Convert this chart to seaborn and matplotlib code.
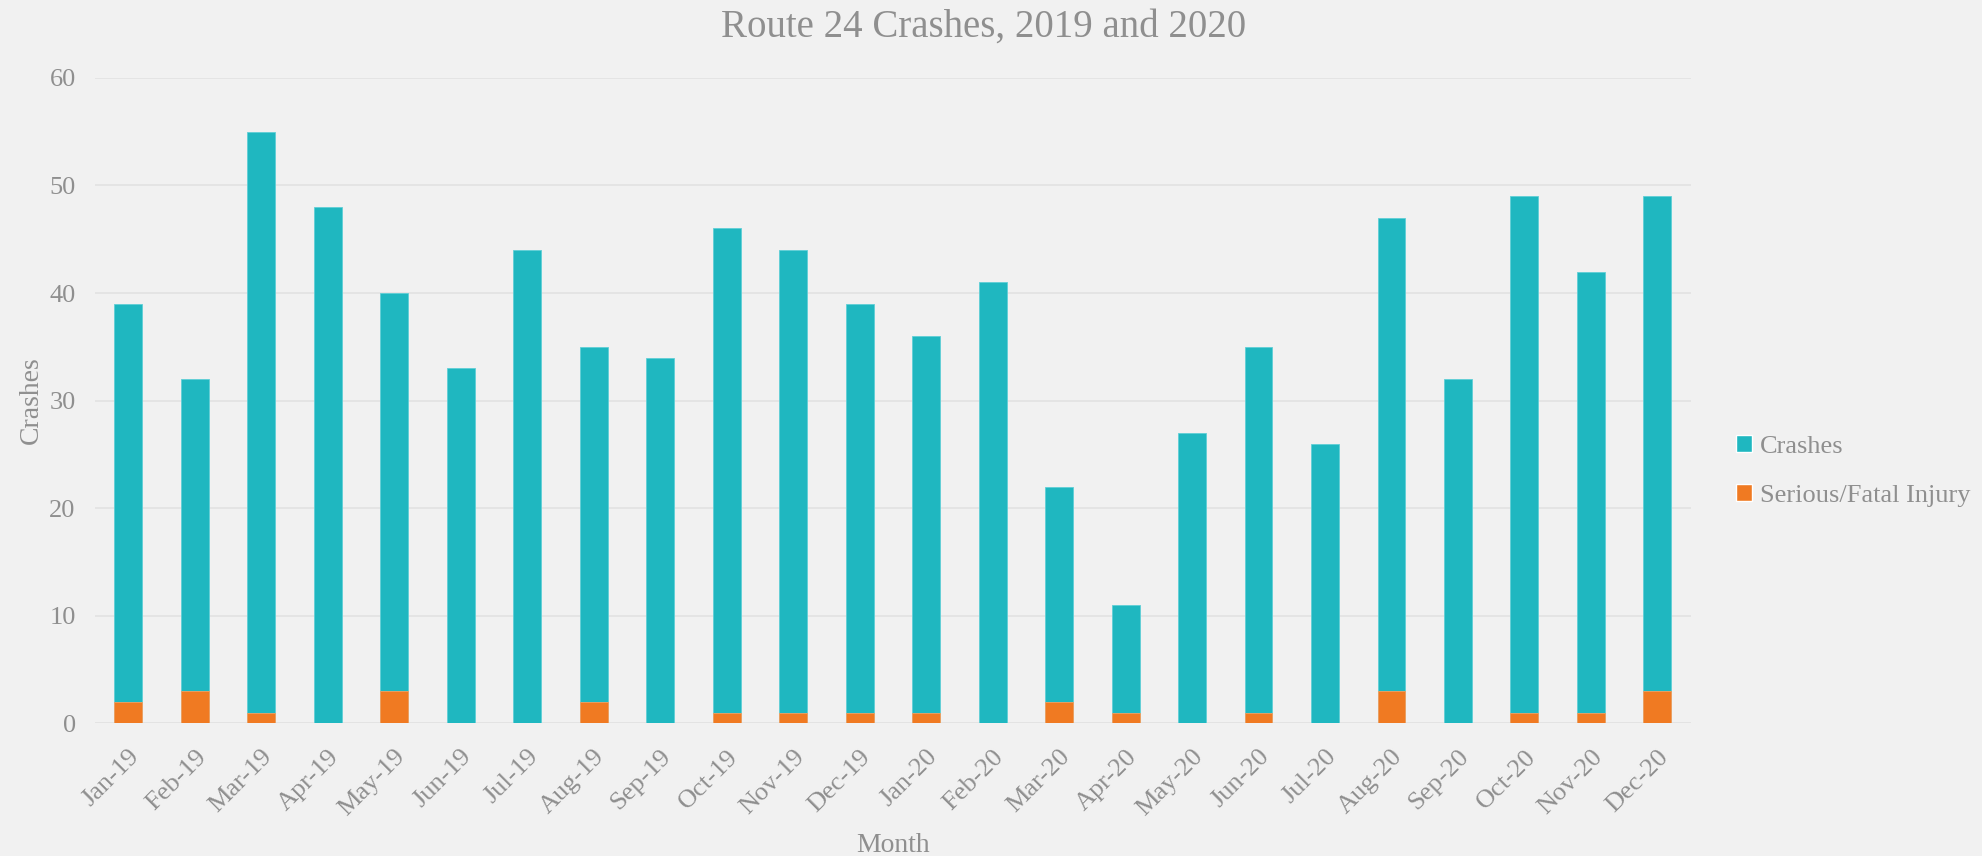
import matplotlib
matplotlib.use("Agg")
import matplotlib.pyplot as plt
from matplotlib.patches import Patch
import seaborn as sns
import pandas as pd

months = ["Jan-19", "Feb-19", "Mar-19", "Apr-19", "May-19", "Jun-19",
          "Jul-19", "Aug-19", "Sep-19", "Oct-19", "Nov-19", "Dec-19",
          "Jan-20", "Feb-20", "Mar-20", "Apr-20", "May-20", "Jun-20",
          "Jul-20", "Aug-20", "Sep-20", "Oct-20", "Nov-20", "Dec-20"]
crashes = [39, 32, 55, 48, 40, 33, 44, 35, 34, 46, 44, 39,
           36, 41, 22, 11, 27, 35, 26, 47, 32, 49, 42, 49]
serious = [2, 3, 1, 0, 3, 0, 0, 2, 0, 1, 1, 1,
           1, 0, 2, 1, 0, 1, 0, 3, 0, 1, 1, 3]
y_ticks = [0, 10, 20, 30, 40, 50, 60]

TEAL = "#1fb7c0"
ORANGE = "#f07a22"
BG = "#f1f1f1"
TXT = "#8f8f8f"
GRID = "#e3e3e3"
FONT = ["Liberation Serif", "DejaVu Serif"]

sns.set_theme(style="white")
plt.rcParams["font.family"] = FONT

df = pd.DataFrame({"Month": months, "Crashes": crashes, "Serious": serious})

fig = plt.figure(figsize=(19.82, 8.56), dpi=100, facecolor=BG)
ax = fig.add_axes([0.048, 0.155, 0.805, 0.754])
ax.set_facecolor(BG)

# Total crashes, with serious/fatal injuries drawn over the same bar
sns.barplot(data=df, x="Month", y="Crashes", color=TEAL, width=0.42,
            saturation=1, ax=ax, edgecolor="#5fcfd6", linewidth=0.6)
sns.barplot(data=df, x="Month", y="Serious", color=ORANGE, width=0.42,
            saturation=1, ax=ax, edgecolor="#f5a060", linewidth=0.6)

ax.set_ylim(0, 60)
ax.set_xlim(-0.5, len(months) - 0.5)
ax.set_yticks(y_ticks)
ax.yaxis.grid(True, color=GRID, linewidth=1.3)
ax.set_axisbelow(True)
for s in ax.spines.values():
    s.set_visible(False)
ax.axhline(0, color=GRID, linewidth=2.0, zorder=0.5)

ax.tick_params(axis="both", length=0, colors=TXT, labelsize=19)
ax.tick_params(axis="y", pad=14)
ax.tick_params(axis="x", pad=16)
plt.setp(ax.get_xticklabels(), rotation=45, ha="right", rotation_mode="anchor")

ax.set_xlabel("Month", color=TXT, fontsize=20, labelpad=9)
ax.set_ylabel("Crashes", color=TXT, fontsize=20, labelpad=4)
fig.text(0.496, 0.968, "Route 24 Crashes, 2019 and 2020", ha="center",
         va="center", color=TXT, fontsize=28)

handles = [Patch(facecolor=TEAL, label="Crashes"),
           Patch(facecolor=ORANGE, label="Serious/Fatal Injury")]
leg = fig.legend(handles=handles, loc="center left",
                 bbox_to_anchor=(0.864, 0.45), frameon=False,
                 handlelength=0.6, handleheight=0.6, handletextpad=0.3,
                 labelspacing=1.0, fontsize=19)
for t in leg.get_texts():
    t.set_color(TXT)

fig.savefig("out.png", dpi=100, facecolor=BG)
